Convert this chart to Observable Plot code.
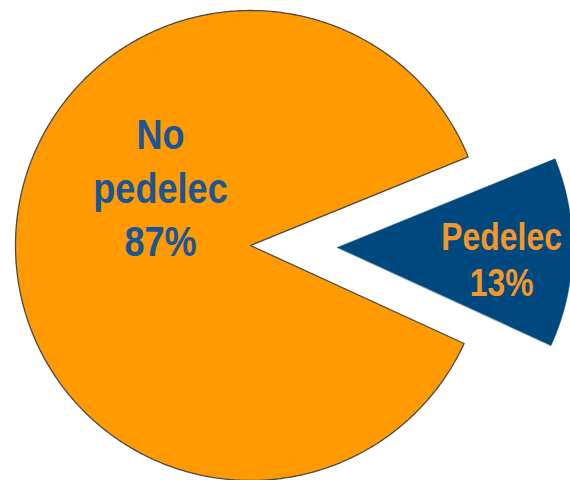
<!DOCTYPE html>
<html><head><meta charset="utf-8">
<script src="https://cdn.jsdelivr.net/npm/d3@7"></script>
<script src="https://cdn.jsdelivr.net/npm/@observablehq/plot@0.6"></script>
<style>html,body{margin:0;padding:0;background:#fff}</style>
</head><body><div id="chart"></div>
<script>
// ---- data ----
const categories = ["No pedelec", "Pedelec"];
const shares = [87, 13];
const labels = ["No\npedelec\n87%", "Pedelec\n13%"];

// ---- layout / style ----
const W = 570, H = 480, R = 235, CX = 250, CY = 245;
const fills = ["#FF9A00", "#00497E"];
const strokes = ["#4a4a4a", "#00497E"];
const strokeWidths = [1.3, 0.5];
const textColors = ["#1B5596", "#F5962A"];
const fontSizes = [43, 38];
const lineHeights = [1.245, 1.21];
const textSqueeze = 0.84;             // horizontal compression of the label font
const explode = [0, 0.37];            // in radius units
const labelRadius = [0.46, 0.70];     // in radius units from slice apex
const labelAngleShift = [32.4, 2.5];  // degrees from slice mid-angle
const pedelecMidDeg = 91.25;          // d3 angle (clockwise from 12 o'clock)

const total = d3.sum(shares);
const rad = d => d * Math.PI / 180;
const start = rad(pedelecMidDeg) + Math.PI * shares[1] / total;
const arcs = d3.pie().sort(null).startAngle(start).endAngle(start + 2 * Math.PI)(shares);

const slices = arcs.map((a, i) => {
  const mid = (a.startAngle + a.endAngle) / 2;
  const ox = explode[i] * Math.sin(mid), oy = explode[i] * Math.cos(mid);
  const pts = [{x: ox, y: oy}];
  const n = Math.max(8, Math.ceil((a.endAngle - a.startAngle) / rad(0.5)));
  for (let k = 0; k <= n; k++) {
    const t = a.startAngle + (a.endAngle - a.startAngle) * k / n;
    pts.push({x: ox + Math.sin(t), y: oy + Math.cos(t)});
  }
  const la = mid + rad(labelAngleShift[i]);
  const label = {x: ox + labelRadius[i] * Math.sin(la), y: oy + labelRadius[i] * Math.cos(la), text: labels[i], name: categories[i]};
  return {pts, label};
});

const squeeze = (index, scales, values, dims, context, next) => {
  const g = next(index, scales, values, dims, context);
  g.querySelectorAll("text").forEach(t => {
    const tr = t.getAttribute("transform") || "";
    t.setAttribute("transform", tr + ` scale(${textSqueeze},1)`);
  });
  return g;
};

const marks = [];
slices.forEach((s, i) => {
  marks.push(Plot.line(s.pts, {x: "x", y: "y", curve: "linear-closed", fill: fills[i], stroke: strokes[i], strokeWidth: strokeWidths[i]}));
});
slices.forEach((s, i) => {
  marks.push(Plot.text([s.label], {x: "x", y: "y", text: "text", fill: textColors[i], fontSize: fontSizes[i],
    fontWeight: "bold", fontFamily: "'Liberation Sans', Arial, sans-serif",
    lineHeight: lineHeights[i], textAnchor: "middle", lineAnchor: "middle", render: squeeze}));
});

const chart = Plot.plot({
  width: W, height: H,
  margin: 0,
  x: {domain: [-CX / R, (W - CX) / R], axis: null},
  y: {domain: [-(H - CY) / R, CY / R], axis: null},
  style: {background: "#fff"},
  marks
});
document.getElementById("chart").appendChild(chart);
</script>
</body></html>
